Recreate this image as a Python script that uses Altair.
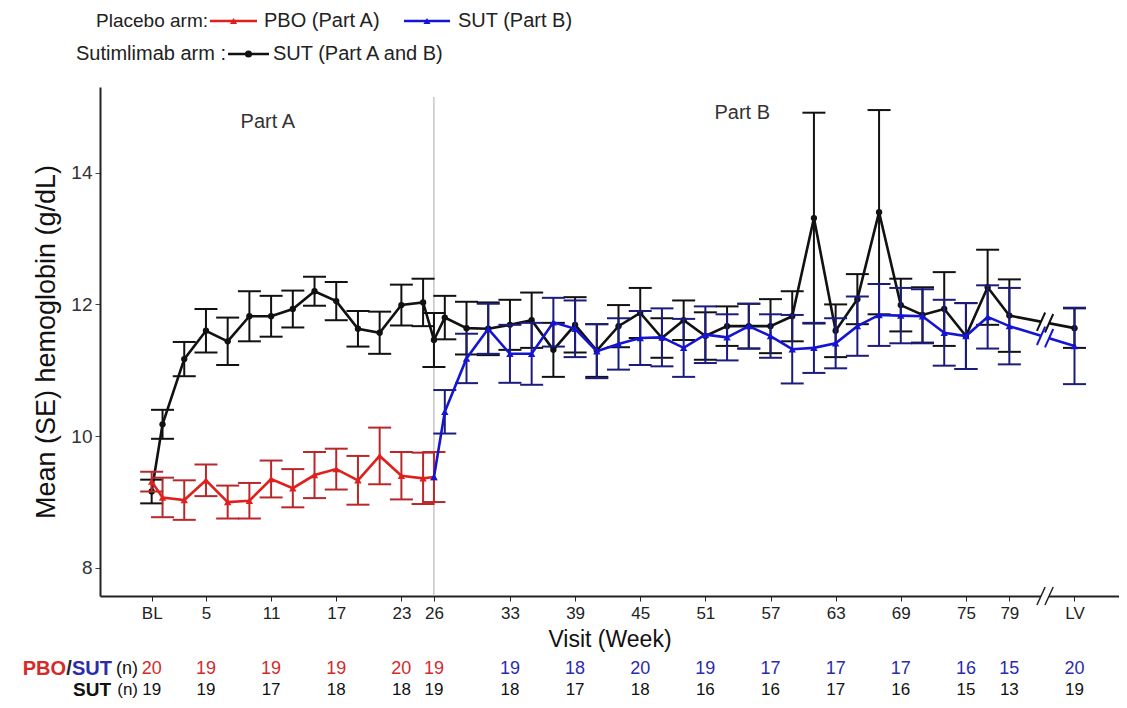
import altair as alt
import pandas as pd

# ---------------- data ----------------
# Sutimlimab arm (Part A and B)
sut_week = [0, 1, 3, 5, 7, 9, 11, 13, 15, 17, 19, 21, 23, 25, 26, 27, 29, 31, 33, 35, 37, 39, 41,
            43, 45, 47, 49, 51, 53, 55, 57, 59, 61, 63, 65, 67, 69, 71, 73, 75, 77, 79, 85]
sut_mean = [9.16, 10.18, 11.17, 11.60, 11.44, 11.82, 11.82, 11.93, 12.20, 12.05, 11.63, 11.57, 11.99,
            12.03, 11.46, 11.80, 11.64, 11.63, 11.69, 11.76, 11.31, 11.69, 11.30, 11.67, 11.87, 11.49,
            11.76, 11.52, 11.67, 11.67, 11.67, 11.82, 13.31, 11.60, 12.08, 13.40, 11.99, 11.84, 11.93,
            11.52, 12.26, 11.83, 11.64]
sut_se = [0.18, 0.22, 0.26, 0.33, 0.36, 0.38, 0.31, 0.28, 0.22, 0.29, 0.27, 0.32, 0.31, 0.36, 0.41,
          0.33, 0.40, 0.40, 0.38, 0.42, 0.41, 0.42, 0.40, 0.32, 0.38, 0.30, 0.30, 0.36, 0.30, 0.34,
          0.41, 0.38, 1.60, 0.40, 0.38, 1.55, 0.40, 0.42, 0.56, 0.50, 0.57, 0.55, 0.30]

# Placebo arm, PBO (Part A)
pbo_week = [0, 1, 3, 5, 7, 9, 11, 13, 15, 17, 19, 21, 23, 25, 26]
pbo_mean = [9.31, 9.07, 9.03, 9.33, 9.00, 9.02, 9.35, 9.21, 9.41, 9.50, 9.33, 9.70, 9.40, 9.36, 9.38]
pbo_se = [0.15, 0.30, 0.30, 0.24, 0.25, 0.27, 0.28, 0.29, 0.35, 0.31, 0.37, 0.43, 0.36, 0.39, 0.38]

# Placebo arm, SUT (Part B)
swi_week = [26, 27, 29, 31, 33, 35, 37, 39, 41, 43, 45, 47, 49, 51, 53, 55, 57, 59, 61, 63, 65, 67,
            69, 71, 73, 75, 77, 79, 85]
swi_mean = [9.38, 10.37, 11.18, 11.63, 11.25, 11.25, 11.73, 11.63, 11.29, 11.40, 11.49, 11.50, 11.34,
            11.54, 11.50, 11.67, 11.52, 11.32, 11.34, 11.41, 11.67, 11.84, 11.83, 11.82, 11.57, 11.52,
            11.81, 11.67, 11.37]
swi_se = [None, 0.33, 0.375, 0.38, 0.44, 0.47, 0.37, 0.43, 0.41, 0.39, 0.41, 0.44, 0.44, 0.43, 0.35,
          0.34, 0.33, 0.52, 0.38, 0.38, 0.45, 0.47, 0.42, 0.41, 0.50, 0.50, 0.48, 0.58, 0.58]

# x-axis ticks (0 = BL, 85 = LV) and patient numbers
tick_week = [0, 5, 11, 17, 23, 26, 33, 39, 45, 51, 57, 63, 69, 75, 79, 85]
n_pbo_sut = [20, 19, 19, 19, 20, 19, 19, 18, 20, 19, 17, 17, 17, 16, 15, 20]
n_sut = [19, 19, 17, 18, 18, 19, 18, 17, 18, 16, 16, 17, 16, 15, 13, 19]

# ---------------- styling ----------------
FONT = "Liberation Sans"
RED, RED_ERR = "#e0201c", "#b8282a"
BLUE, BLUE_ERR = "#1414d2", "#1c1c7c"
BLACK = "#111111"
N_RED, N_BLUE = "#d42a2a", "#2b2bb0"

W, H = 1019, 509
xs = alt.Scale(domain=[-4.76, 89.1], nice=False, zero=False)
ys = alt.Scale(domain=[7.574, 15.3], nice=False, zero=False)

AX = alt.Axis(values=tick_week, title="Visit (Week)",
              labelExpr="datum.value == 0 ? 'BL' : datum.value == 85 ? 'LV' : datum.label",
              labelFont=FONT, labelFontSize=17, labelColor="#222",
              titleFont=FONT, titleFontSize=23, titleFontWeight="normal",
              titleColor="#111", titlePadding=7, domainWidth=2, domainColor="#222",
              tickColor="#222", tickSize=5, tickWidth=1, labelPadding=4,
              labelOverlap=False, labelFlush=False, grid=False)
AY = alt.Axis(values=[8, 10, 12, 14], title="Mean (SE) hemoglobin (g/dL)",
              labelFont=FONT, labelFontSize=19, labelColor="#333",
              titleFont=FONT, titleFontSize=27, titleFontWeight="normal",
              titleColor="#111", titlePadding=10, domainWidth=2, domainColor="#222",
              tickColor="#444", tickSize=5, tickWidth=1, labelPadding=3, grid=False)


def frame(week, mean, se):
    df = pd.DataFrame({"week": week, "mean": mean, "se": se}, dtype=float)
    df["lo"] = df["mean"] - df["se"]
    df["hi"] = df["mean"] + df["se"]
    return df


sut = frame(sut_week, sut_mean, sut_se)
pbo = frame(pbo_week, pbo_mean, pbo_se)
swi = frame(swi_week, swi_mean, swi_se)


def X(field="week"):
    return alt.X(field, type="quantitative", scale=xs, axis=AX)


def Y(field):
    return alt.Y(field, type="quantitative", scale=ys, axis=AY)


def series(df, line_col, err_col, shape, size):
    err = df.dropna(subset=["se"])
    caps = pd.concat([err[["week", "lo"]].rename(columns={"lo": "v"}),
                      err[["week", "hi"]].rename(columns={"hi": "v"})])
    bars = alt.Chart(err).mark_rule(color=err_col, strokeWidth=2).encode(
        x=X(), y=Y("lo"), y2="hi")
    cap = alt.Chart(caps).mark_tick(orient="horizontal", size=23, thickness=2,
                                    color=err_col, opacity=1).encode(x=X(), y=Y("v"))
    line = alt.Chart(df).mark_line(color=line_col, strokeWidth=2.6).encode(x=X(), y=Y("mean"))
    pts = alt.Chart(df).mark_point(filled=True, shape=shape, size=size, color=line_col,
                                   opacity=1).encode(x=X(), y=Y("mean"))
    return [bars, cap, line, pts]


# vertical separator at week 26
vline = alt.Chart(pd.DataFrame({"week": [26]})).mark_rule(color="#aaaaaa", strokeWidth=1).encode(
    x=X(), y=alt.value(10), y2=alt.value(H))

# part labels
parts = pd.DataFrame({"week": [10.7, 54.4], "y": [14.77, 14.91], "t": ["Part A", "Part B"]})
part_txt = alt.Chart(parts).mark_text(font=FONT, fontSize=20, color="#333").encode(
    x=X(), y=Y("y"), text="t")

layers = [vline, part_txt]
layers += series(sut, BLACK, BLACK, "circle", 40)
layers += series(pbo, RED, RED_ERR, "triangle-up", 55)
layers += series(swi, BLUE, BLUE_ERR, "triangle-up", 55)

# ---------------- axis / line break between week 79 and LV ----------------
b_lo, b_hi = 81.92, 82.66
one = pd.DataFrame({"a": [0]})
gap = pd.DataFrame({"x1": [b_lo], "x2": [b_hi]})
layers.append(alt.Chart(gap).mark_rect(color="white").encode(
    x=X("x1"), x2="x2", y=alt.value(195), y2=alt.value(300)))
layers.append(alt.Chart(gap).mark_rect(color="white").encode(
    x=X("x1"), x2="x2", y=alt.value(H - 6), y2=alt.value(H + 6)))


def interp(wk, vals, w):
    a, b = wk[-2], wk[-1]
    va, vb = vals[-2], vals[-1]
    return va + (vb - va) * (w - a) / (b - a)


dx, dy = 0.38, 0.14
sl = []
for wk, vals, col in [(sut_week, sut_mean, BLACK), (swi_week, swi_mean, BLUE)]:
    for w in (b_lo, b_hi):
        yc = interp(wk, vals, w)
        sl.append({"x1": w - dx, "x2": w + dx, "y1": yc - dy, "y2": yc + dy, "c": col})
sl_df = pd.DataFrame(sl)
for col in (BLACK, BLUE):
    layers.append(alt.Chart(sl_df[sl_df.c == col]).mark_rule(color=col, strokeWidth=2).encode(
        x=X("x1"), x2="x2", y=Y("y1"), y2="y2"))
ax_sl = pd.DataFrame({"x1": [b_lo - dx, b_hi - dx], "x2": [b_lo + dx, b_hi + dx]})
layers.append(alt.Chart(ax_sl).mark_rule(color="#222", strokeWidth=1.5).encode(
    x=X("x1"), x2="x2", y=alt.value(H + 9), y2=alt.value(H - 9)))

# ---------------- n table ----------------
ntab = pd.DataFrame({"week": tick_week, "n1": n_pbo_sut, "n2": n_sut,
                     "partA": [w <= 26 for w in tick_week]})
ROW1, ROW2 = 582, 603
layers.append(alt.Chart(ntab[ntab.partA]).mark_text(font=FONT, fontSize=18, color=N_RED).encode(
    x=X(), y=alt.value(ROW1), text="n1:Q"))
layers.append(alt.Chart(ntab[~ntab.partA]).mark_text(font=FONT, fontSize=18, color=N_BLUE).encode(
    x=X(), y=alt.value(ROW1), text="n1:Q"))
layers.append(alt.Chart(ntab).mark_text(font=FONT, fontSize=17, color="#111").encode(
    x=X(), y=alt.value(ROW2), text="n2:Q"))


def label(txt, x, y, color, bold=False, align="right", size=19):
    return alt.Chart(one).mark_text(text=txt, font=FONT, fontSize=size, color=color,
                                    fontWeight="bold" if bold else "normal",
                                    align=align, baseline="middle").encode(
        x=alt.value(x), y=alt.value(y))


layers += [
    label("(n)", 38, ROW1, "#111", size=18),
    label("SUT", 12, ROW1, N_BLUE, bold=True, size=20),
    label("/", -31, ROW1, "#222", bold=True, align="center", size=20),
    label("PBO", -34, ROW1, N_RED, bold=True, size=20),
    label("(n)", 38, ROW2, "#111", size=17),
    label("SUT", 11, ROW2, "#111", bold=True, size=19),
]

# ---------------- custom legend at the top ----------------
L1, L2 = -66, -33
layers += [
    label("Placebo arm:", 108, L1, "#222", size=19),
    label("PBO (Part A)", 164, L1, "#222", align="left", size=20),
    label("SUT (Part B)", 358, L1, "#222", align="left", size=20),
    label("Sutimlimab arm :", 126, L2, "#222", size=20),
    label("SUT (Part A and B)", 173, L2, "#222", align="left", size=20),
]
for x1, x2, yy, col, shape in [(110, 157, L1, RED, "triangle-up"), (304, 350, L1, BLUE, "triangle-up"),
                               (128, 169, L2, BLACK, "circle")]:
    layers.append(alt.Chart(one).mark_rule(color=col, strokeWidth=2.5).encode(
        x=alt.value(x1), x2=alt.value(x2), y=alt.value(yy)))
    layers.append(alt.Chart(one).mark_point(filled=True, shape=shape, size=50, color=col,
                                            opacity=1).encode(
        x=alt.value((x1 + x2) / 2), y=alt.value(yy)))

chart = alt.layer(*layers).properties(
    width=W, height=H,
    autosize=alt.AutoSizeParams(type="none"),
    padding={"left": 92, "top": 79, "right": 0, "bottom": 104},
    background="white",
).configure_view(stroke=None)

chart.save("out.html", embed_options={"renderer": "svg", "actions": False})
